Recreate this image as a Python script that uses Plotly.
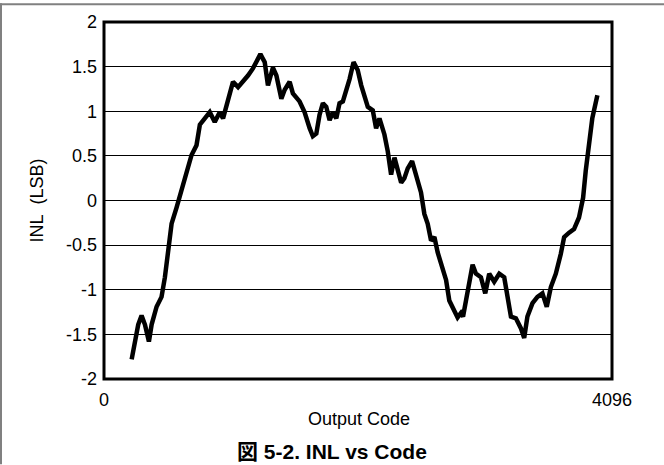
import plotly.graph_objects as go

# Output code (x) and INL in LSB (y)
codes = [223, 249, 276, 303, 330, 362, 384, 424, 464, 491, 517, 545, 585, 625, 665,
         706, 746, 773, 813, 853, 893, 933, 960, 1000, 1040, 1081, 1121, 1161, 1201,
         1229, 1261, 1296, 1322, 1362, 1390, 1430, 1457, 1497, 1523, 1577, 1617, 1658,
         1684, 1712, 1738, 1765, 1792, 1819, 1845, 1873, 1899, 1926, 1953, 1980, 2012,
         2046, 2074, 2100, 2127, 2167, 2194, 2221, 2261, 2288, 2315, 2342, 2368, 2396,
         2422, 2449, 2484, 2516, 2556, 2583, 2610, 2637, 2664, 2690, 2730, 2758, 2784,
         2824, 2851, 2878, 2895, 2919, 2945, 2972, 2999, 3039, 3074, 3106, 3146, 3187,
         3227, 3253, 3281, 3321, 3361, 3388, 3414, 3455, 3495, 3535, 3570, 3603, 3643,
         3683, 3710, 3750, 3790, 3830, 3863, 3884, 3911, 3937, 3978]
inl = [-1.78, -1.56, -1.39, -1.29, -1.39, -1.58, -1.39, -1.19, -1.08, -0.86, -0.56,
       -0.26, -0.08, 0.11, 0.29, 0.51, 0.62, 0.85, 0.92, 0.99, 0.88, 0.99, 0.92, 1.14,
       1.33, 1.27, 1.33, 1.40, 1.48, 1.55, 1.64, 1.55, 1.29, 1.49, 1.40, 1.14, 1.24,
       1.33, 1.20, 1.11, 0.99, 0.81, 0.72, 0.75, 0.96, 1.09, 1.05, 0.90, 0.99, 0.92,
       1.09, 1.11, 1.22, 1.36, 1.55, 1.46, 1.29, 1.16, 1.05, 1.01, 0.81, 0.92, 0.74,
       0.55, 0.29, 0.48, 0.36, 0.20, 0.25, 0.36, 0.44, 0.27, 0.09, -0.15, -0.26, -0.45,
       -0.41, -0.58, -0.75, -0.89, -1.12, -1.23, -1.31, -1.26, -1.30, -1.12, -0.89,
       -0.72, -0.82, -0.86, -1.04, -0.82, -0.91, -0.82, -0.86, -1.08, -1.30, -1.32,
       -1.43, -1.54, -1.30, -1.15, -1.08, -1.04, -1.19, -0.97, -0.82, -0.60, -0.41,
       -0.36, -0.32, -0.19, 0.03, 0.33, 0.62, 0.92, 1.18]

y_tickvals = [-2, -1.5, -1, -0.5, 0, 0.5, 1, 1.5, 2]
y_ticktext = ["-2", "-1.5", "-1", "-0.5", "0", "0.5", "1", "1.5", "2"]
x_tickvals = [0, 4096]
x_ticktext = ["0", "4096"]

x_title = "Output Code"
y_title = "INL\u00a0\u00a0(LSB)"
caption = "図 5-2. INL vs Code"

FONT = "Arial, 'Liberation Sans', 'Noto Sans CJK JP', sans-serif"

W, H = 664, 465
L, R, T, B = 104, 52, 19, 86
PW, PH = W - L - R, H - T - B


def px_x(px):
    return (px - L) / PW


def px_y(py):
    return (H - B - py) / PH


fig = go.Figure()
fig.add_trace(go.Scatter(
    x=codes, y=inl, mode="lines",
    line=dict(color="black", width=4.5),
    showlegend=False, hoverinfo="skip",
))

fig.update_layout(
    width=W, height=H,
    margin=dict(l=L, r=R, t=T, b=B),
    paper_bgcolor="white", plot_bgcolor="white",
    font=dict(family=FONT, size=18, color="black"),
    xaxis=dict(
        range=[0, 4096], tickvals=x_tickvals, ticktext=x_ticktext,
        showgrid=False, zeroline=False, showline=False,
        ticks="", ticklabelstandoff=8,
        tickfont=dict(size=18),
    ),
    yaxis=dict(
        range=[-2, 2], tickvals=y_tickvals, ticktext=y_ticktext,
        showgrid=True, gridcolor="black", gridwidth=1,
        zeroline=False, showline=False,
        ticks="", ticklabelstandoff=6,
        tickfont=dict(size=18),
    ),
    shapes=[
        dict(type="rect", xref="paper", yref="paper", x0=0, x1=1, y0=0, y1=1,
             line=dict(color="black", width=3), layer="above"),
        dict(type="rect", xref="paper", yref="paper",
             x0=px_x(0), x1=px_x(W), y0=px_y(2), y1=px_y(0),
             fillcolor="#808080", line=dict(width=0)),
        dict(type="rect", xref="paper", yref="paper",
             x0=px_x(0), x1=px_x(2), y0=px_y(H), y1=px_y(0),
             fillcolor="#808080", line=dict(width=0)),
    ],
    annotations=[
        dict(text=x_title, xref="paper", yref="paper", x=px_x(358.5), y=px_y(419.5),
             xanchor="center", yanchor="middle", showarrow=False,
             font=dict(size=18)),
        dict(text=y_title, xref="paper", yref="paper", x=px_x(36), y=0.5,
             xanchor="center", yanchor="middle", showarrow=False, textangle=-90,
             font=dict(size=18)),
        dict(text="<b>" + caption + "</b>", xref="paper", yref="paper",
             x=px_x(332), y=px_y(452), xanchor="center", yanchor="middle",
             showarrow=False, font=dict(size=21)),
    ],
)

fig.write_html("out.html",
               config={"displayModeBar": False},
               post_script="document.body.style.margin='0';document.body.style.padding='0';")
